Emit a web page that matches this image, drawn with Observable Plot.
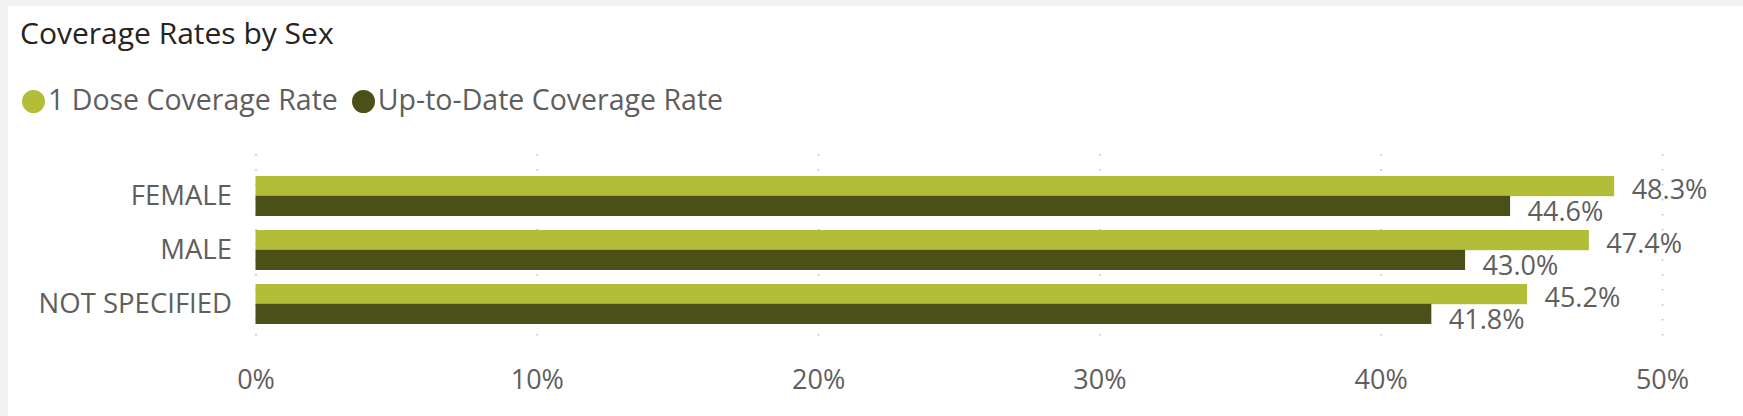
<!DOCTYPE html>
<html>
<head>
<meta charset="utf-8">
<script src="https://cdn.jsdelivr.net/npm/d3@7"></script>
<script src="https://cdn.jsdelivr.net/npm/@observablehq/plot@0.6"></script>
<style>
  html, body { margin: 0; padding: 0; }
  body { width: 1743px; height: 416px; overflow: hidden; font-family: "Segoe UI", "Open Sans", sans-serif; }
  #wrap { position: relative; width: 1743px; height: 416px; background: #f3f2f1; }
  #card { position: absolute; left: 8px; top: 6px; right: 0; bottom: 0; background: #ffffff; }
  #title { position: absolute; left: 20px; top: 18px; font-size: 30px; color: #252423; white-space: nowrap; line-height: 1; }
  #legend { position: absolute; left: 22px; top: 85px; font-size: 28.5px; color: #605e5c; white-space: nowrap; display: flex; align-items: center; line-height: 1; }
  .sw { display: inline-block; width: 23px; height: 23px; border-radius: 50%; margin-right: 3px; position: relative; top: 2px; }
  .item { display: inline-flex; align-items: center; margin-right: 14px; }
  #chart { position: absolute; left: 0; top: 140px; }
</style>
</head>
<body>
<div id="wrap">
  <div id="card"></div>
  <div id="title"></div>
  <div id="legend"></div>
  <div id="chart"></div>
</div>
<script>
const title = "Coverage Rates by Sex";
const categories = ["FEMALE", "MALE", "NOT SPECIFIED"];
const seriesNames = ["1 Dose Coverage Rate", "Up-to-Date Coverage Rate"];
const oneDose = [0.483, 0.474, 0.452];
const upToDate = [0.446, 0.430, 0.418];
const xTicks = [0, 0.1, 0.2, 0.3, 0.4, 0.5];
const seriesColors = ["#b3bd38", "#4b5018"];

document.getElementById("title").textContent = title;
const legend = document.getElementById("legend");
seriesNames.forEach((name, i) => {
  const item = document.createElement("span");
  item.className = "item";
  const sw = document.createElement("span");
  sw.className = "sw";
  sw.style.background = seriesColors[i];
  const t = document.createElement("span");
  t.textContent = name;
  item.appendChild(sw);
  item.appendChild(t);
  legend.appendChild(item);
});

const dataA = categories.map((c, i) => ({category: c, series: seriesNames[0], value: oneDose[i]}));
const dataB = categories.map((c, i) => ({category: c, series: seriesNames[1], value: upToDate[i]}));
const fmt = d3.format(".1%");
const labelFont = "'Segoe UI', 'Open Sans', sans-serif";

const chart = Plot.plot({
  width: 1743,
  height: 276,
  marginLeft: 255.5,
  marginRight: 81,
  marginTop: 14,
  marginBottom: 70,
  style: {fontFamily: labelFont, background: "transparent", color: "#605e5c"},
  x: {domain: [0, 0.5], ticks: xTicks, label: null},
  y: {domain: categories, paddingInner: 0.255, paddingOuter: 0.4, label: null},
  color: {domain: seriesNames, range: seriesColors},
  marks: [
    Plot.gridX(xTicks, {stroke: "#b9b9b9", strokeOpacity: 1, strokeWidth: 1.5, strokeDasharray: "1.5,13.5"}),
    Plot.barX(dataA, {x: "value", y: "category", fill: "series", insetBottom: 19.8}),
    Plot.barX(dataB, {x: "value", y: "category", fill: "series", insetTop: 19.8}),
    Plot.text(dataA, {x: "value", y: "category", text: d => fmt(d.value), textAnchor: "start", dx: 17, dy: -6, fontSize: 27, fill: "#605e5c"}),
    Plot.text(dataB, {x: "value", y: "category", text: d => fmt(d.value), textAnchor: "start", dx: 17, dy: 16, fontSize: 27, fill: "#605e5c"}),
    Plot.axisX({ticks: xTicks, tickFormat: d3.format(".0%"), tickSize: 0, tickPadding: 23, fontSize: 27, fill: "#605e5c", label: null}),
    Plot.axisY({tickSize: 0, tickPadding: 24, fontSize: 27.5, fill: "#605e5c", label: null})
  ]
});
document.getElementById("chart").appendChild(chart);
</script>
</body>
</html>
